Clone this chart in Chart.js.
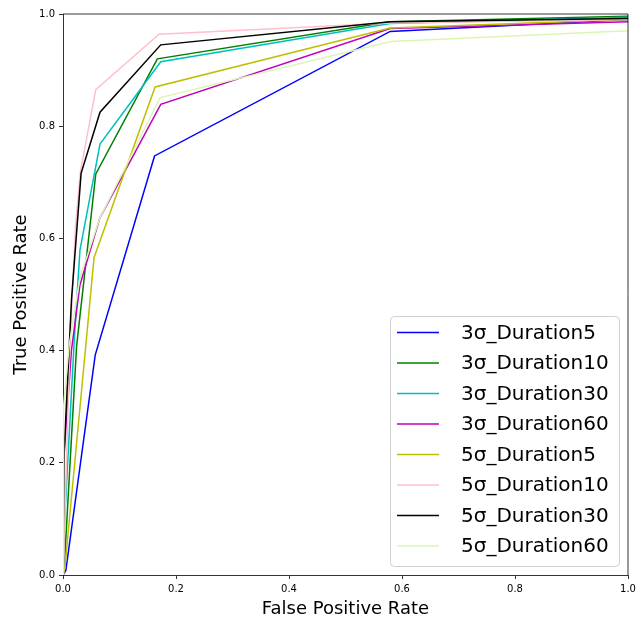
<!DOCTYPE html>
<html>
<head>
<meta charset="utf-8">
<script src="https://cdn.jsdelivr.net/npm/chart.js@4/dist/chart.umd.min.js"></script>
<style>
    html, body { margin: 0; padding: 0; background: #fff; }
    #wrap { width: 636px; height: 621px; }
</style>
</head>
<body>
<div id="wrap"><canvas id="rocChart" width="636" height="621"></canvas></div>
<script>
// ROC curves
const seriesLabels = ['3σ_Duration5', '3σ_Duration10', '3σ_Duration30', '3σ_Duration60',
                      '5σ_Duration5', '5σ_Duration10', '5σ_Duration30', '5σ_Duration60'];

const fpr3s5  = [0, 0.005, 0.057, 0.162, 0.579, 1];
const tpr3s5  = [0, 0.008, 0.392, 0.747, 0.969, 0.990];

const fpr3s10 = [0, 0.002, 0.024, 0.058, 0.167, 0.579, 1];
const tpr3s10 = [0, 0.010, 0.407, 0.715, 0.920, 0.986, 0.996];

const fpr3s30 = [0, 0.003, 0.020, 0.030, 0.0655, 0.173, 0.579, 1];
const tpr3s30 = [0, 0.100, 0.420, 0.579, 0.768, 0.915, 0.983, 0.994];

const fpr3s60 = [0, 0.001, 0.015, 0.030, 0.065, 0.173, 0.579, 1];
const tpr3s60 = [0, 0.200, 0.401, 0.517, 0.636, 0.839, 0.974, 0.986];

const fpr5s5  = [0, 0.0035, 0.055, 0.163, 0.579, 1];
const tpr5s5  = [0, 0.015, 0.566, 0.870, 0.975, 0.990];

const fpr5s10 = [0, 0.004, 0.012, 0.022, 0.031, 0.058, 0.170, 0.580, 1];
const tpr5s10 = [0, 0.130, 0.400, 0.620, 0.720, 0.865, 0.964, 0.984, 0.990];

const fpr5s30 = [0, 0.002, 0.015, 0.032, 0.0655, 0.173, 0.579, 1];
const tpr5s30 = [0, 0.220, 0.490, 0.716, 0.825, 0.945, 0.986, 0.992];

const fpr5s60 = [0, 0.001, 0.011, 0.030, 0.065, 0.172, 0.580, 1];
const tpr5s60 = [0, 0.300, 0.410, 0.530, 0.636, 0.851, 0.951, 0.970];

const seriesX = [fpr3s5, fpr3s10, fpr3s30, fpr3s60, fpr5s5, fpr5s10, fpr5s30, fpr5s60];
const seriesY = [tpr3s5, tpr3s10, tpr3s30, tpr3s60, tpr5s5, tpr5s10, tpr5s30, tpr5s60];
const seriesColors = ['#0000ff', '#008000', '#00bfbf', '#bf00bf', '#bfbf00', '#ffc0cb', '#000000', '#dcf5b4'];

const axisTicks = [0, 0.2, 0.4, 0.6, 0.8, 1.0];

const FONT = 'DejaVu Sans';

const datasets = seriesLabels.map((label, i) => ({
    label: label,
    data: seriesX[i].map((x, j) => ({ x: x, y: seriesY[i][j] })),
    borderColor: seriesColors[i],
    backgroundColor: seriesColors[i],
    borderWidth: 1.5,
    pointRadius: 0,
    showLine: true,
    fill: false,
    tension: 0,
    order: seriesLabels.length - 1 - i // later series on top, like matplotlib
}));

// top/right spines + legend drawn in the plot corner
const framePlugin = {
    id: 'frame',
    afterDraw(chart) {
        const ctx = chart.ctx;
        const a = chart.chartArea;
        ctx.save();
        ctx.strokeStyle = '#000';
        ctx.lineWidth = 0.8;
        ctx.beginPath();
        ctx.moveTo(a.left, a.top);
        ctx.lineTo(a.right, a.top);
        ctx.lineTo(a.right, a.bottom);
        ctx.stroke();

        // legend box
        const bx = 390, by = 316, bw = 229, bh = 250, r = 4;
        ctx.fillStyle = 'rgba(255,255,255,0.8)';
        ctx.strokeStyle = '#d0d0d0';
        ctx.lineWidth = 1;
        ctx.beginPath();
        ctx.roundRect(bx + 0.5, by + 0.5, bw, bh, r);
        ctx.fill();
        ctx.stroke();

        ctx.font = '20px "' + FONT + '"';
        ctx.textBaseline = 'middle';
        ctx.textAlign = 'left';
        chart.data.datasets.forEach((ds, i) => {
            const y = 332.5 + i * 30.5;
            ctx.strokeStyle = ds.borderColor;
            ctx.lineWidth = 1.5;
            ctx.beginPath();
            ctx.moveTo(397, y);
            ctx.lineTo(439, y);
            ctx.stroke();
            ctx.fillStyle = '#000';
            ctx.fillText(ds.label, 461, y + 1);
        });
        ctx.restore();
    }
};

const tickOpts = {
    color: '#000',
    font: { family: FONT, size: 10 },
    padding: 4,
    autoSkip: false,
    maxRotation: 0,
    callback: v => Number(v).toFixed(1)
};

new Chart(document.getElementById('rocChart').getContext('2d'), {
    type: 'scatter',
    data: { datasets: datasets },
    options: {
        responsive: false,
        animation: false,
        layout: { padding: { left: 0, right: 8, top: 14, bottom: 0 } },
        plugins: {
            legend: { display: false },
            tooltip: { enabled: false }
        },
        scales: {
            x: {
                type: 'linear',
                min: 0,
                max: 1,
                afterBuildTicks: s => { s.ticks = axisTicks.map(v => ({ value: v })); },
                afterFit: s => { s.height = 46; s.paddingRight = 0; s.paddingLeft = 0; },
                ticks: tickOpts,
                grid: { drawOnChartArea: false, drawTicks: true, tickLength: 4, color: '#000', lineWidth: 0.8 },
                border: { display: true, color: '#000', width: 0.8 },
                title: {
                    display: true,
                    text: 'False Positive Rate',
                    color: '#000',
                    font: { family: FONT, size: 18 },
                    padding: { top: 0, bottom: 1 }
                }
            },
            y: {
                type: 'linear',
                min: 0,
                max: 1,
                afterBuildTicks: s => { s.ticks = axisTicks.map(v => ({ value: v })); },
                afterFit: s => { s.width = 63; s.paddingTop = 0; s.paddingBottom = 0; },
                ticks: tickOpts,
                grid: { drawOnChartArea: false, drawTicks: true, tickLength: 4, color: '#000', lineWidth: 0.8 },
                border: { display: true, color: '#000', width: 0.8 },
                title: {
                    display: true,
                    text: 'True Positive Rate',
                    color: '#000',
                    font: { family: FONT, size: 18 },
                    padding: { top: 11, bottom: 0 }
                }
            }
        }
    },
    plugins: [framePlugin]
});
</script>
</body>
</html>
